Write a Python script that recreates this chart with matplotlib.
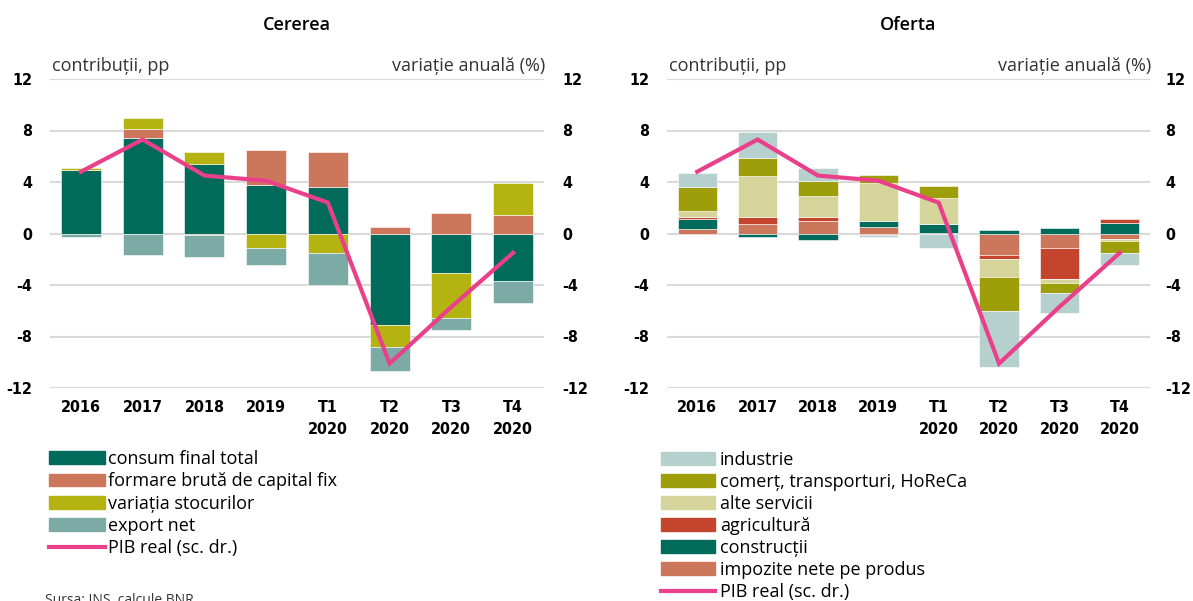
import numpy as np
import matplotlib

matplotlib.use("Agg")
import matplotlib.pyplot as plt
from matplotlib.patches import Patch
from matplotlib.lines import Line2D

categories = ["2016", "2017", "2018", "2019", "T1\n2020", "T2\n2020", "T3\n2020", "T4\n2020"]

# Cererea - contributii, pp
consum = [4.9, 7.4, 5.4, 3.8, 3.65, -7.1, -3.1, -3.7]
fbcf = [0.0, 0.75, -0.1, 2.7, 2.65, 0.5, 1.6, 1.45]
stocuri = [0.15, 0.8, 0.95, -1.15, -1.5, -1.75, -3.45, 2.5]
export_net = [-0.25, -1.65, -1.7, -1.3, -2.5, -1.8, -0.95, -1.7]

# Oferta - contributii, pp
industrie = [1.1, 2.05, 0.95, -0.13, -1.15, -4.4, -1.55, -0.95]
comert = [1.85, 1.4, 1.2, 0.65, 0.95, -2.65, -0.8, -0.95]
alte_servicii = [0.5, 3.2, 1.6, 2.95, 2.05, -1.4, -0.3, -0.15]
agricultura = [0.15, 0.55, 0.3, -0.15, 0.0, -0.25, -2.45, 0.3]
constructii = [0.75, -0.3, -0.5, 0.45, 0.65, 0.3, 0.45, 0.8]
impozite = [0.35, 0.7, 1.0, 0.5, 0.05, -1.7, -1.1, -0.4]

# PIB real, variatie anuala (%)
pib = [4.8, 7.3, 4.5, 4.1, 2.4, -10.1, -5.7, -1.5]

plt.rcParams["axes.unicode_minus"] = False

TXT = ["Open Sans", "DejaVu Sans"]
NUM = dict(fontfamily="DejaVu Sans", fontstretch="condensed", fontweight="bold", fontsize=11.5)
PINK = "#EA3F8A"
GRID = "#D9D9D9"

W, H = 1193, 601
fig = plt.figure(figsize=(W / 100, H / 100), dpi=100)


def stacked(ax, series, colors):
    x = np.arange(len(categories))
    pos = np.zeros(len(categories))
    neg = np.zeros(len(categories))
    for vals, col in zip(series, colors):
        v = np.array(vals, dtype=float)
        bottom = np.where(v >= 0, pos, neg)
        ax.bar(x, v, 0.65, bottom=bottom, color=col, edgecolor="white",
               linewidth=0.4, zorder=2)
        pos = pos + np.clip(v, 0, None)
        neg = neg + np.clip(v, None, 0)


def numfont(labels):
    for lab in labels:
        lab.set_fontfamily(NUM["fontfamily"])
        lab.set_fontstretch(NUM["fontstretch"])
        lab.set_fontweight(NUM["fontweight"])
        lab.set_fontsize(NUM["fontsize"])


def style(ax, title, rpad):
    ax.set_ylim(-12, 12)
    ax.set_xlim(-0.5, len(categories) - 0.5)
    ax.set_yticks(np.arange(-12, 13, 4))
    ax.yaxis.grid(True, color=GRID, linewidth=1.5, zorder=0)
    ax.set_axisbelow(True)
    for s in ax.spines.values():
        s.set_visible(False)
    ax.tick_params(axis="y", length=0, pad=13)
    ax.tick_params(axis="x", length=0, pad=9)
    ax.set_xticks(np.arange(len(categories)))
    ax.set_xticklabels(categories, linespacing=1.5, va="top")
    numfont(ax.get_xticklabels())
    numfont(ax.get_yticklabels())
    ax2 = ax.twinx()
    ax2.set_ylim(-12, 12)
    ax2.set_yticks(np.arange(-12, 13, 4))
    for s in ax2.spines.values():
        s.set_visible(False)
    ax2.tick_params(axis="y", length=0, pad=rpad)
    numfont(ax2.get_yticklabels())
    ax2.plot(np.arange(len(categories)), pib, color=PINK, linewidth=3,
             solid_joinstyle="miter", zorder=5)
    bb = ax.get_position()
    fig.text(bb.x0 + bb.width / 2, 1 - 25 / H, title, ha="center", va="center",
             fontfamily=TXT, fontsize=13, fontweight="semibold")
    fig.text(bb.x0 + 2 / W, 1 - 66 / H, "contribuții, pp", ha="left", va="center",
             fontfamily=TXT, fontsize=13, color="#333333")
    fig.text(bb.x1 + 1 / W, 1 - 66 / H, "variație anuală (%)", ha="right", va="center",
             fontfamily=TXT, fontsize=13, color="#333333")
    return ax2


# Cererea
axL = fig.add_axes([50 / W, 1 - 388 / H, 494 / W, 309 / H])
c_cols = ["#006B5A", "#CC775C", "#B5B312", "#7BABA4"]
stacked(axL, [consum, fbcf, stocuri, export_net], c_cols)
style(axL, "Cererea", 13)

# Oferta
axR = fig.add_axes([667 / W, 1 - 388 / H, 483 / W, 309 / H])
o_series = [impozite, constructii, agricultura, alte_servicii, comert, industrie]
o_cols = ["#CC775C", "#006B5A", "#C4452E", "#D5D49B", "#9E9D0A", "#B6D0CE"]
stacked(axR, o_series, o_cols)
style(axR, "Oferta", 11)

# legends
c_labels = ["consum final total", "formare brută de capital fix",
            "variația stocurilor", "export net"]
hL = [Patch(color=c) for c in c_cols] + [Line2D([], [], color=PINK, linewidth=3)]
fig.legend(hL, c_labels + ["PIB real (sc. dr.)"], loc="upper left",
           bbox_to_anchor=(49 / W, 1 - 450 / H), frameon=False,
           prop={"family": TXT, "size": 13}, handlelength=3.1, handleheight=0.7,
           handletextpad=0.15, labelspacing=0.24, borderpad=0, borderaxespad=0)

o_labels = ["industrie", "comerț, transporturi, HoReCa", "alte servicii",
            "agricultură", "construcții", "impozite nete pe produs"]
hR = [Patch(color=c) for c in o_cols[::-1]] + [Line2D([], [], color=PINK, linewidth=3)]
fig.legend(hR, o_labels + ["PIB real (sc. dr.)"], loc="upper left",
           bbox_to_anchor=(661 / W, 1 - 451 / H), frameon=False,
           prop={"family": TXT, "size": 13}, handlelength=3.0, handleheight=0.7,
           handletextpad=0.25, labelspacing=0.22, borderpad=0, borderaxespad=0)

fig.text(45 / W, 0.0, "Sursa: INS, calcule BNR", ha="left", va="center",
         fontfamily=TXT, fontsize=10, color="#333333")

fig.savefig("out.png", dpi=100)
